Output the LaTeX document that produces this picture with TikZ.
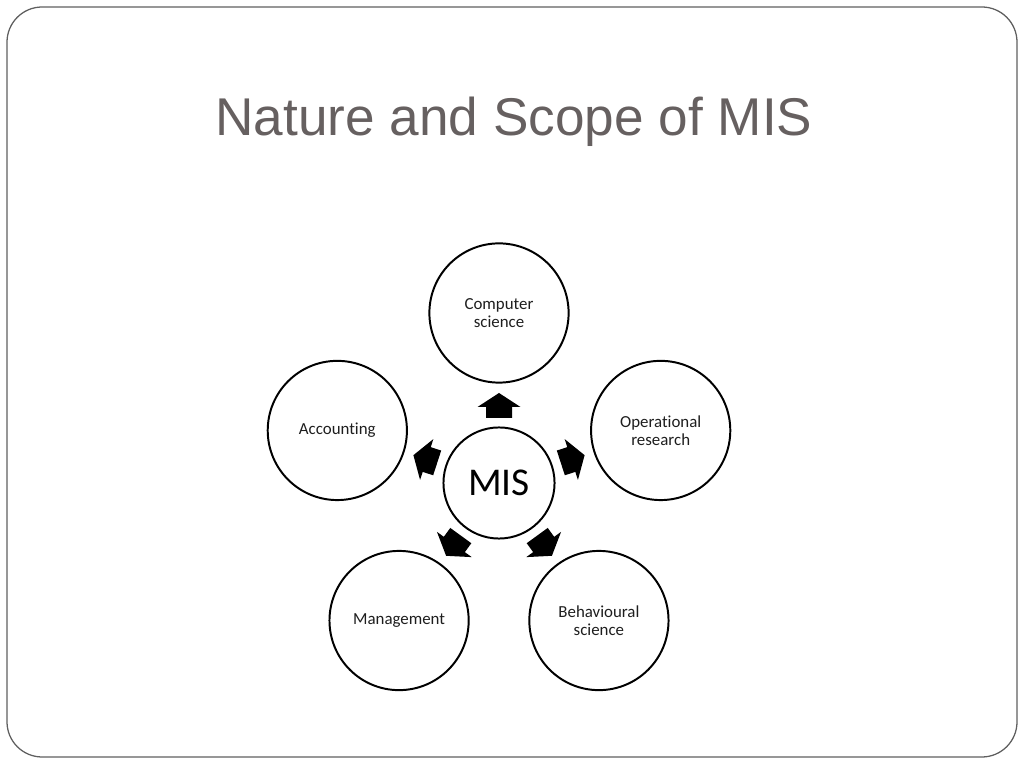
\documentclass[tikz,border=0pt]{standalone}
\usepackage{fontspec}
\setmainfont{Carlito}[Ligatures=NoCommon]
\newfontfamily\titlefont{Liberation Sans}
\usepackage{tikz}
\usetikzlibrary{calc}
\definecolor{titlegray}{RGB}{102,96,96}
\definecolor{framegray}{RGB}{95,95,95}
\definecolor{txtgray}{RGB}{30,30,30}
\tikzset{
  field/.style={circle,draw=black,line width=1.4pt,minimum size=99pt,inner sep=0pt,align=center,
    font=\fontsize{12}{13}\selectfont,text=txtgray},
  core/.style={circle,draw=black,line width=1.4pt,minimum size=79pt,inner sep=0pt,
    font=\fontsize{28}{30}\selectfont,text=black},
  blockarrow/.style={fill=black,draw=none}
}
\begin{document}
\begin{tikzpicture}[x=0.025cm,y=0.025cm]
              \useasboundingbox(0,0)rectangle(1024,768);
              \draw[framegray,line width=0.9pt,rounded corners=25pt](7,11)rectangle(1017,761);
              \node[titlegray,font=\titlefont\fontsize{37.8}{40}\selectfont,anchor=base](title)at(514,632){Nature and Scope of MIS};
              \node[core](mis)at(499,285){MIS};
              \node[field](cs)at($(mis)+(90:170)$){Computer\\science};
              \node[field](or)at($(mis)+(18:170)$){Operational\\research};
              \node[field](bs)at($(mis)+(306:170)$){Behavioural\\science};
              \node[field](mg)at($(mis)+(234:170)$){Management};
              \node[field](ac)at($(mis)+(162:170)$){Accounting};
              % block arrows from MIS to each field
              \foreach \a in {90,18,306,234,162}
                \fill[blockarrow,shift={(mis.center)},rotate=\a]
                  (65,-13)--(76,-13)--(76,-21.5)--(90,0)--(76,21.5)--(76,13)--(65,13)--cycle;
            \end{tikzpicture}
\end{document}
